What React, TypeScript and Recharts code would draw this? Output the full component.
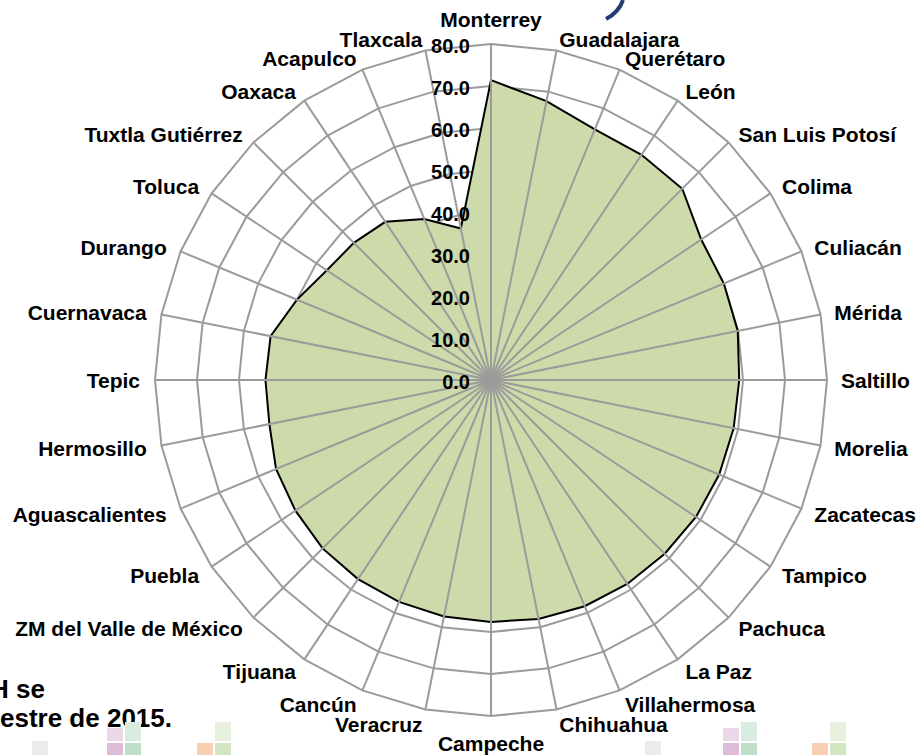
import React from 'react';
import { RadarChart, Radar, PolarGrid, PolarAngleAxis, PolarRadiusAxis } from 'recharts';

const cities = [
  'Monterrey', 'Guadalajara', 'Querétaro', 'León', 'San Luis Potosí', 'Colima', 'Culiacán', 'Mérida',
  'Saltillo', 'Morelia', 'Zacatecas', 'Tampico', 'Pachuca', 'La Paz', 'Villahermosa', 'Chihuahua',
  'Campeche', 'Veracruz', 'Cancún', 'Tijuana', 'ZM del Valle de México', 'Puebla', 'Aguascalientes', 'Hermosillo',
  'Tepic', 'Cuernavaca', 'Durango', 'Toluca', 'Tuxtla Gutiérrez', 'Oaxaca', 'Acapulco', 'Tlaxcala',
];

const values = [
  71.4, 67.7, 64.6, 64.5, 64.4, 60.2, 60.0, 59.9,
  59.1, 58.9, 58.8, 58.7, 58.5, 58.4, 58.3, 58.0,
  57.6, 57.4, 57.2, 57.0, 56.7, 56.0, 55.4, 53.8,
  53.7, 53.5, 50.0, 47.0, 46.2, 45.3, 41.5, 36.8,
];

const radiusDomain = [0, 80];
const radiusTickCount = 9;

const data = cities.map((city, i) => ({ city, value: values[i] }));

const W = 918;
const H = 755;
const CX = 491;
const CY = 380;
const R = 336;
const FONT = "'Liberation Sans', Arial, Helvetica, sans-serif";
const GRID = '#9b9b9b';

const AngleTick = (props: any) => {
  const { payload, index } = props;
  const deg = typeof payload?.coordinate === 'number' ? payload.coordinate : 90 - (index * 360) / cities.length;
  const rad = (deg * Math.PI) / 180;
  const c = Math.cos(rad);
  const s = Math.sin(rad);
  const vx = CX + R * c;
  const vy = CY - R * s;
  let x: number;
  let y: number;
  let anchor: 'start' | 'middle' | 'end';
  if (Math.abs(c) < 0.01) {
    anchor = 'middle';
    x = vx;
    y = s > 0 ? vy - 17 : vy + 35;
  } else {
    anchor = c > 0 ? 'start' : 'end';
    x = vx + (c > 0 ? 14 : 15) * c;
    const capCenter = vy + (s > 0 ? -11.5 * s : 15 * -s);
    y = capCenter + 7.5;
  }
  return (
    <g>
      <line x1={CX} y1={CY} x2={vx} y2={vy} stroke={GRID} strokeWidth={2} />
      <text x={x} y={y} textAnchor={anchor} fontSize={21} fontWeight="bold" fill="#000" fontFamily={FONT}>
        {payload.value}
      </text>
    </g>
  );
};

const RadiusTick = (props: any) => {
  const { x, y, payload } = props;
  return (
    <text x={x - 21} y={y + 9} textAnchor="end" fontSize={20} fontWeight="bold" fill="#000" fontFamily={FONT}>
      {Number(payload.value).toFixed(1)}
    </text>
  );
};

const Squares = ({ x, y }: { x: number; y: number }) => (
  <g>
    <rect x={x} y={y} width={16} height={13} fill="#ead8e8" />
    <rect x={x + 18} y={y - 6} width={16} height={19} fill="#d8ecdf" />
    <rect x={x} y={y + 15} width={16} height={14} fill="#dcbcd6" />
    <rect x={x + 18} y={y + 15} width={16} height={14} fill="#bfdfc9" />
  </g>
);

const Squares2 = ({ x, y }: { x: number; y: number }) => (
  <g>
    <rect x={x + 18} y={y - 6} width={16} height={19} fill="#e6f0dc" />
    <rect x={x} y={y + 15} width={16} height={14} fill="#f8cfb3" />
    <rect x={x + 18} y={y + 15} width={16} height={14} fill="#d3e6c2" />
  </g>
);

export default function App() {
  return (
    <div style={{ position: 'absolute', left: 0, top: 0, width: W, height: H, background: '#fff', overflow: 'hidden' }}>
      <svg width={W} height={H} style={{ position: 'absolute', left: 0, top: 0 }}>
        <path d="M 623 0 Q 619 12 606 19" stroke="#1f3f73" strokeWidth={4} fill="none" />
        <text x={45} y={698} textAnchor="end" fontSize={26} fontWeight="bold" fill="#000" fontFamily={FONT}>H se</text>
        <text x={172} y={727} textAnchor="end" fontSize={26} fontWeight="bold" fill="#000" fontFamily={FONT}>estre de 2015.</text>
        <rect x={32} y={741} width={16} height={14} fill="#ececec" />
        <Squares x={107} y={728} />
        <Squares2 x={197} y={728} />
        <rect x={645} y={741} width={16} height={14} fill="#ececec" />
        <Squares x={723} y={728} />
        <Squares2 x={812} y={728} />
      </svg>
      <div style={{ position: 'absolute', left: 0, top: 0 }}>
        <RadarChart width={W} height={H} data={data} cx={CX} cy={CY} outerRadius={R} margin={{ top: 0, right: 0, bottom: 0, left: 0 }}>
          <PolarGrid gridType="polygon" stroke={GRID} strokeWidth={2} radialLines={false} />
          <Radar
            dataKey="value"
            stroke="#000"
            strokeWidth={2}
            fill="#cddbaa"
            fillOpacity={1}
            dot={false}
            isAnimationActive={false}
          />
          <PolarAngleAxis dataKey="city" axisLine={false} tickLine={false} tick={AngleTick} />
          <PolarRadiusAxis
            angle={90}
            domain={radiusDomain as [number, number]}
            tickCount={radiusTickCount}
            axisLine={false}
            tickLine={false}
            tick={RadiusTick}
          />
        </RadarChart>
      </div>
    </div>
  );
}
